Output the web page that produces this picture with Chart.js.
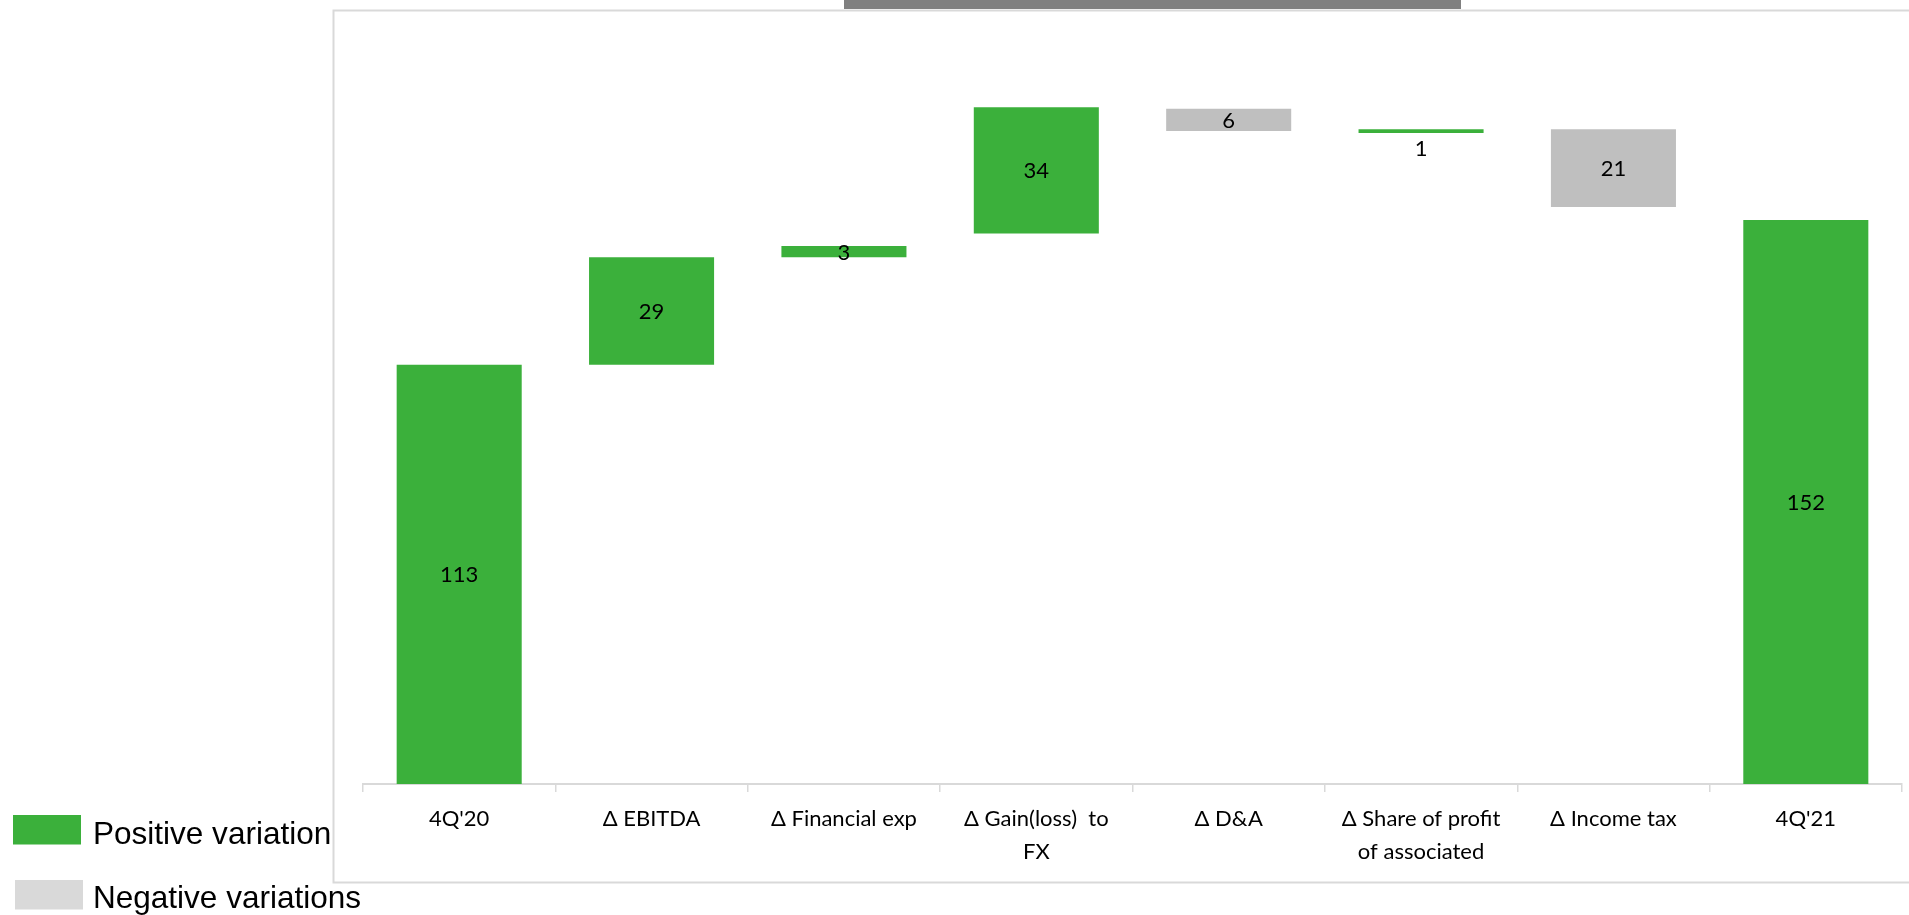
<!DOCTYPE html>
<html>
<head>
<meta charset="utf-8">
<script src="https://cdn.jsdelivr.net/npm/chart.js@4.4.1/dist/chart.umd.min.js"></script>
<style>
  html, body { margin: 0; padding: 0; background: #ffffff; }
  #wrap { position: relative; width: 1909px; height: 915px; }
</style>
</head>
<body>
<div id="wrap"><canvas id="bridge"></canvas></div>
<script>
// Net income bridge, 4Q'20 to 4Q'21
const categories = [
  "4Q'20",
  "Δ EBITDA",
  "Δ Financial exp",
  ["Δ Gain(loss)  to", "FX"],
  "Δ D&A",
  ["Δ Share of profit", "of associated"],
  "Δ Income tax",
  "4Q'21"
];
// Size of each step (totals for the first and last column)
const changes = [113, 29, 3, 34, -6, 1, -21, 152];
// Level each step starts from
const stepStarts = [0, 113, 142, 148.4, 182, 175.5, 176.5, 0];
// Steps whose value label sits under the bar instead of inside it
const labelBelow = [false, false, false, false, false, true, false, false];

const legendItems = ["Positive variation", "Negative variations"];

const GREEN = '#3bb03b';
const BAR_GREY = '#bfbfbf';
const LEGEND_GREY = '#d9d9d9';
const FRAME_GREY = '#d9d9d9';

const floatingBars = changes.map((c, i) => [stepStarts[i], stepStarts[i] + c]);
const barColors = changes.map(c => (c >= 0 ? GREEN : BAR_GREY));

// Frame, header strip and the legend on the left
const backdrop = {
  id: 'backdrop',
  beforeDraw(chart) {
    const ctx = chart.ctx;
    ctx.save();
    ctx.fillStyle = '#ffffff';
    ctx.fillRect(0, 0, chart.width, chart.height);

    // legend
    const swatches = [
      { color: GREEN, x: 13, y: 815, text: legendItems[0], base: 843.5 },
      { color: LEGEND_GREY, x: 15, y: 880, text: legendItems[1], base: 907.5 }
    ];
    swatches.forEach(s => {
      ctx.fillStyle = s.color;
      ctx.fillRect(s.x, s.y, 68, 29.5);
      ctx.save();
      ctx.translate(93, s.base);
      ctx.scale(0.985, 1);
      ctx.fillStyle = '#000000';
      ctx.font = '32px "Liberation Sans", Arial, sans-serif';
      ctx.textBaseline = 'alphabetic';
      ctx.textAlign = 'left';
      ctx.fillText(s.text, 0, 0);
      ctx.restore();
    });

    // chart frame
    ctx.fillStyle = '#ffffff';
    ctx.fillRect(334, 11, chart.width - 334, 871);
    ctx.strokeStyle = FRAME_GREY;
    ctx.lineWidth = 2;
    ctx.strokeRect(333.5, 10.5, chart.width + 20, 872);

    // header strip
    ctx.fillStyle = '#808080';
    ctx.fillRect(844, 0, 617, 9);
    ctx.restore();
  }
};

// Value labels on each step
const stepLabels = {
  id: 'stepLabels',
  afterDatasetsDraw(chart) {
    const ctx = chart.ctx;
    const meta = chart.getDatasetMeta(0);
    ctx.save();
    ctx.fillStyle = '#000000';
    ctx.font = '22px Lato, "Open Sans", sans-serif';
    ctx.textAlign = 'center';
    ctx.textBaseline = 'middle';
    meta.data.forEach((bar, i) => {
      const top = Math.min(bar.y, bar.base);
      const bottom = Math.max(bar.y, bar.base);
      const y = labelBelow[i] ? bottom + 15 : (top + bottom) / 2;
      ctx.fillText(String(Math.abs(changes[i])), bar.x, y + 1);
    });
    ctx.restore();
  }
};

new Chart(document.getElementById('bridge'), {
  type: 'bar',
  data: {
    labels: categories,
    datasets: [{
      data: floatingBars,
      backgroundColor: barColors,
      borderWidth: 0,
      barPercentage: 0.65,
      categoryPercentage: 1.0
    }]
  },
  options: {
    responsive: true,
    maintainAspectRatio: false,
    animation: false,
    events: [],
    layout: { padding: { left: 363, right: 7, top: 42, bottom: 0 } },
    plugins: {
      legend: { display: false },
      tooltip: { enabled: false }
    },
    scales: {
      x: {
        offset: true,
        grid: {
          offset: true,
          drawOnChartArea: false,
          drawTicks: true,
          tickLength: 8,
          color: FRAME_GREY,
          lineWidth: 1.5
        },
        border: { display: true, color: FRAME_GREY, width: 2 },
        ticks: {
          color: '#000000',
          padding: 10,
          autoSkip: false,
          maxRotation: 0,
          font: { family: 'Lato, "Open Sans", sans-serif', size: 22, lineHeight: 1.5 }
        },
        afterFit(scale) { scale.height = 131; }
      },
      y: {
        display: false,
        min: 0,
        max: 200
      }
    }
  },
  plugins: [backdrop, stepLabels]
});
</script>
</body>
</html>
